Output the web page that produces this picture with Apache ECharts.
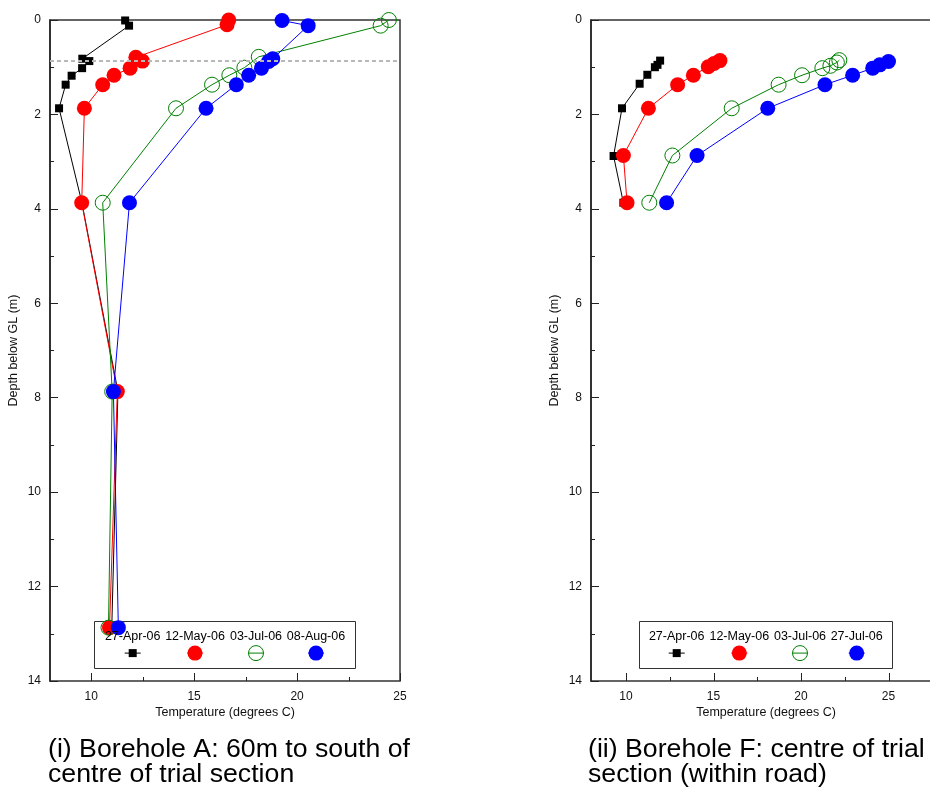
<!DOCTYPE html>
<html>
<head>
<meta charset="utf-8">
<script src="https://cdn.jsdelivr.net/npm/echarts@6/dist/echarts.min.js"></script>
<style>
  html, body { margin: 0; padding: 0; background: #fff; }
  #chart { width: 930px; height: 791px; }
</style>
</head>
<body>
<div id="chart"></div>
<script>
// ---- Borehole A (60 m south of trial section centre) ----
const namesA = ['27-Apr-06', '12-May-06', '03-Jul-06', '08-Aug-06'];
const depthA_Apr = [0.01, 0.12, 0.82, 0.87, 1.02, 1.18, 1.37, 1.87, 3.87, 7.87, 12.87];
const tempA_Apr  = [11.65, 11.84, 9.57, 9.91, 9.56, 9.05, 8.76, 8.44, 9.55, 11.3, 11.0];
const depthA_May = [0.0, 0.1, 0.79, 0.87, 1.02, 1.17, 1.37, 1.87, 3.87, 7.87, 12.87];
const tempA_May  = [16.68, 16.6, 12.17, 12.49, 11.89, 11.11, 10.56, 9.67, 9.54, 11.27, 10.89];
const depthA_Jul = [0.0, 0.12, 0.78, 1.01, 1.17, 1.37, 1.87, 3.87, 7.87, 12.87];
const tempA_Jul  = [24.46, 24.06, 18.14, 17.44, 16.71, 15.87, 14.12, 10.56, 11.02, 10.84];
const depthA_Aug = [0.01, 0.12, 0.82, 0.88, 1.02, 1.17, 1.37, 1.87, 3.87, 7.87, 12.87];
const tempA_Aug  = [19.27, 20.54, 18.82, 18.62, 18.27, 17.65, 17.05, 15.58, 11.86, 11.08, 11.32];
const waterLevelA = 0.87;

// ---- Borehole F (centre of trial section, within road) ----
const namesF = ['27-Apr-06', '12-May-06', '03-Jul-06', '27-Jul-06'];
const depthF_Apr = [0.86, 0.95, 1.0, 1.16, 1.35, 1.87, 2.88, 3.87];
const tempF_Apr  = [11.95, 11.8, 11.65, 11.22, 10.78, 9.77, 9.29, 9.85];
const depthF_May = [0.86, 0.92, 0.99, 1.17, 1.37, 1.87, 2.87, 3.87];
const tempF_May  = [15.37, 15.03, 14.7, 13.85, 12.95, 11.28, 9.85, 10.06];
const depthF_Jul = [0.85, 0.9, 0.97, 1.02, 1.17, 1.37, 1.87, 2.87, 3.87];
const tempF_Jul  = [22.19, 22.05, 21.68, 21.22, 20.06, 18.72, 16.04, 12.65, 11.33];
const depthF_Aug = [0.88, 0.95, 1.02, 1.17, 1.37, 1.87, 2.87, 3.87];
const tempF_Aug  = [25.0, 24.5, 24.1, 22.95, 21.37, 18.1, 14.06, 12.32];

// Axis ranges and tick values
const tempMinA = 8, tempMaxA = 25;
const tempMinF = 8, tempMaxF = 28;
const tempMajorTicks = [10, 15, 20, 25];
const tempMinorTicksA = [12.5, 17.5, 22.5];
const tempMinorTicksF = [12.5, 17.5, 22.5, 27.5];
const tempAxisTitle = 'Temperature (degrees C)';
const depthAxisTitle = 'Depth below GL (m)';

// Captions
const captionA = '(i) Borehole A: 60m to south of\ncentre of trial section';
const captionF = '(ii) Borehole F: centre of trial\nsection (within road)';

const FONT = '"Liberation Sans", Arial, sans-serif';
const PLOT_TOP = 20;
const PLOT_H = 661;
const DEPTH_MAX = 14;

// marker styles for the four survey dates
const styles = [
  { color: '#000000', symbol: 'rect',   size: 8,  hollow: false },
  { color: '#ff0000', symbol: 'circle', size: 15, hollow: false },
  { color: '#008000', symbol: 'circle', size: 15, hollow: true },
  { color: '#0000ff', symbol: 'circle', size: 15, hollow: false }
];

function pairs(temps, depths) {
  return temps.map((t, i) => [t, depths[i]]);
}

function makeSeries(name, temps, depths, st, xIdx, yIdx) {
  return {
    type: 'line',
    name: name,
    xAxisIndex: xIdx,
    yAxisIndex: yIdx,
    data: pairs(temps, depths),
    symbol: st.symbol,
    symbolSize: st.size,
    showSymbol: true,
    animation: false,
    silent: true,
    lineStyle: { color: st.color, width: 1 },
    itemStyle: st.hollow
      ? { color: 'rgba(0,0,0,0)', borderColor: st.color, borderWidth: 1 }
      : { color: st.color, borderWidth: 0 }
  };
}

const seriesA = [
  makeSeries(namesA[0], tempA_Apr, depthA_Apr, styles[0], 0, 0),
  makeSeries(namesA[1], tempA_May, depthA_May, styles[1], 0, 0),
  makeSeries(namesA[2], tempA_Jul, depthA_Jul, styles[2], 0, 0),
  makeSeries(namesA[3], tempA_Aug, depthA_Aug, styles[3], 0, 0)
];
// dashed water level line drawn on top of the markers
seriesA[3].markLine = {
  silent: true,
  symbol: 'none',
  label: { show: false },
  lineStyle: { color: '#b8b8b8', width: 2, type: [4, 3] },
  data: [{ yAxis: waterLevelA }]
};

const seriesF = [
  makeSeries(namesF[0], tempF_Apr, depthF_Apr, styles[0], 1, 1),
  makeSeries(namesF[1], tempF_May, depthF_May, styles[1], 1, 1),
  makeSeries(namesF[2], tempF_Jul, depthF_Jul, styles[2], 1, 1),
  makeSeries(namesF[3], tempF_Aug, depthF_Aug, styles[3], 1, 1)
];

const axisColor = '#222';
const labelStyle = { color: '#111', fontSize: 12, fontFamily: FONT };
const nameStyle = { color: '#111', fontSize: 12.5, fontFamily: FONT };

// temperature scale only; its ticks, labels and title are drawn afterwards
function tempX(grid, min, max) {
  return { type: 'value', gridIndex: grid, min: min, max: max, show: false };
}
function depthY(grid) {
  return {
    type: 'value', gridIndex: grid, min: 0, max: DEPTH_MAX, interval: 2, inverse: true,
    name: depthAxisTitle, nameLocation: 'middle', nameGap: 30,
    nameTextStyle: nameStyle,
    axisLine: { show: true, onZero: false, lineStyle: { color: axisColor, width: 1.5 } },
    axisTick: { show: true, inside: true, length: 8, lineStyle: { color: axisColor } },
    minorTick: { show: true, splitNumber: 2, length: 4, lineStyle: { color: axisColor } },
    axisLabel: { show: true, margin: 9, ...labelStyle },
    splitLine: { show: false }
  };
}

// Legend boxes: date text above each marker
function legendGraphics(names, box, xs) {
  const els = [{
    type: 'rect', z: 1,
    shape: { x: box.x, y: box.y, width: box.w, height: box.h },
    style: { fill: '#fff', stroke: '#333', lineWidth: 1 }
  }];
  const textY = box.y + 15;
  const markY = box.y + 31.6;
  names.forEach((n, i) => {
    const st = styles[i];
    const cx = xs[i];
    els.push({
      type: 'text', z: 20,
      style: { text: n, x: cx, y: textY, align: 'center', verticalAlign: 'middle',
               fontSize: 12.5, fontFamily: FONT, fill: '#000' }
    });
    els.push({
      type: 'line', z: 20,
      shape: { x1: cx - 8, y1: markY, x2: cx + 8, y2: markY },
      style: { stroke: st.color, lineWidth: 1 }
    });
    if (st.symbol === 'rect') {
      els.push({
        type: 'rect', z: 21,
        shape: { x: cx - 4, y: markY - 4, width: 8, height: 8 },
        style: { fill: st.color }
      });
    } else {
      els.push({
        type: 'circle', z: 21,
        shape: { cx: cx, cy: markY, r: st.size / 2 },
        style: st.hollow ? { fill: 'none', stroke: st.color, lineWidth: 1 } : { fill: st.color }
      });
    }
  });
  return els;
}

const chart = echarts.init(document.getElementById('chart'), null, { renderer: 'canvas' });
chart.setOption({
  animation: false,
  backgroundColor: '#fff',
  grid: [
    { left: 50, top: PLOT_TOP, width: 350, height: PLOT_H, show: true, outerBoundsMode: 'none',
      borderColor: '#333', borderWidth: 1.5, backgroundColor: 'transparent' },
    { left: 591, top: PLOT_TOP, width: 350, height: PLOT_H, show: true, outerBoundsMode: 'none',
      borderColor: '#333', borderWidth: 1.5, backgroundColor: 'transparent' }
  ],
  xAxis: [tempX(0, tempMinA, tempMaxA), tempX(1, tempMinF, tempMaxF)],
  yAxis: [depthY(0), depthY(1)],
  series: seriesA.concat(seriesF)
});

// temperature axis furniture placed through the axis scales:
// inward ticks, labels under the major ticks and the axis title
function tempAxisGraphics(idx, minorTicks, tMin, tMax) {
  const yBase = chart.convertToPixel({ yAxisIndex: idx }, DEPTH_MAX);
  const px = v => chart.convertToPixel({ xAxisIndex: idx }, v);
  const tick = (v, len) => {
    const x = Math.round(px(v)) + 0.5;
    return {
      type: 'line', z: 5, silent: true,
      shape: { x1: x, y1: yBase, x2: x, y2: yBase - len },
      style: { stroke: axisColor, lineWidth: 1 }
    };
  };
  const els = [];
  tempMajorTicks.forEach(v => {
    els.push(tick(v, 8));
    els.push({
      type: 'text', z: 5, silent: true,
      style: { text: String(v), x: px(v), y: yBase + 10, align: 'center', verticalAlign: 'top',
               fontSize: labelStyle.fontSize, fontFamily: FONT, fill: labelStyle.color }
    });
  });
  minorTicks.forEach(v => els.push(tick(v, 4)));
  els.push({
    type: 'text', z: 5, silent: true,
    style: { text: tempAxisTitle, x: px((tMin + tMax) / 2), y: yBase + 25.5, align: 'center',
             verticalAlign: 'top', fontSize: nameStyle.fontSize, fontFamily: FONT, fill: nameStyle.color }
  });
  return els;
}

const graphics = []
  .concat(tempAxisGraphics(0, tempMinorTicksA, tempMinA, tempMaxA))
  .concat(tempAxisGraphics(1, tempMinorTicksF, tempMinF, tempMaxF))
  .concat(legendGraphics(namesA, { x: 94.5, y: 621.5, w: 261, h: 47 }, [132.7, 195, 256, 316]))
  .concat(legendGraphics(namesF, { x: 639.5, y: 621.5, w: 253, h: 47 }, [676.7, 739.3, 800, 856.7]))
  .concat([
    { type: 'text', z: 20, style: { text: captionA, x: 48, y: 737, fontSize: 26.7, lineHeight: 25,
        fontFamily: FONT, fill: '#000', align: 'left', verticalAlign: 'top' } },
    { type: 'text', z: 20, style: { text: captionF, x: 588, y: 737, fontSize: 26.7, lineHeight: 25,
        fontFamily: FONT, fill: '#000', align: 'left', verticalAlign: 'top' } }
  ]);

chart.setOption({ graphic: graphics });
</script>
</body>
</html>
